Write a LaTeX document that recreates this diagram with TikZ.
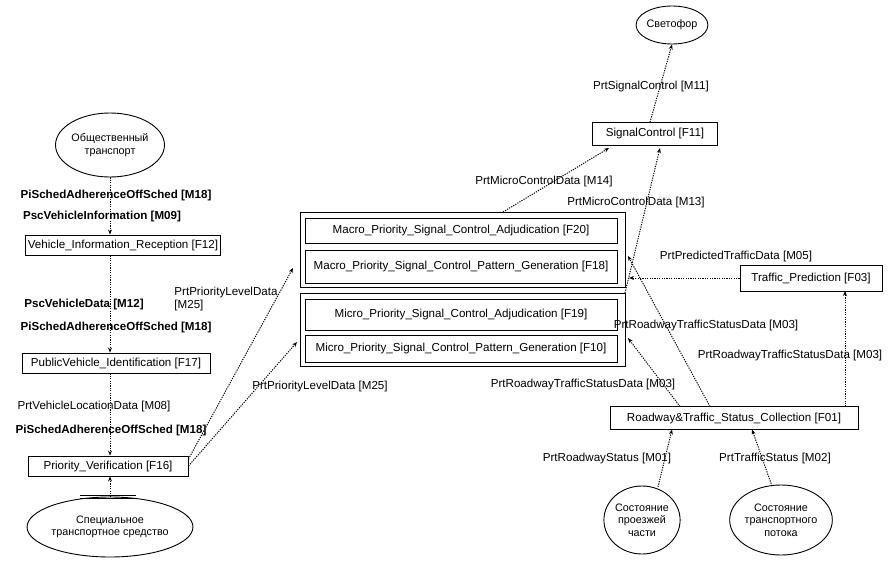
\documentclass[tikz,border=0pt]{standalone}
\usepackage{fontspec}
\setmainfont{Liberation Sans}
\usetikzlibrary{arrows.meta,shapes.geometric}
\begin{document}
\begin{tikzpicture}[x=1pt,y=-1pt,font=\fontsize{11.6}{13}\selectfont,
  box/.style={draw,line width=0.9pt,minimum height=20pt,inner sep=2pt},
  ell/.style={draw,ellipse,line width=0.9pt,align=center,inner sep=0pt,font=\fontsize{10.8}{12.5}\selectfont},
  fl/.style={line width=1pt,dash pattern=on 1.2pt off 1.2pt,-{Stealth[length=5pt,width=4pt]}},
  lb/.style={inner sep=1pt},
  bl/.style={inner sep=1pt,font=\fontsize{11.6}{13}\selectfont\bfseries}]
\useasboundingbox (0,0) rectangle (893,575);
% left column
\node[ell,minimum width=100pt,minimum height=64pt] (pt) at (110,145) {Общественный\\транспорт};
\node[bl] (l1) at (116,195) {PiSchedAdherenceOffSched [M18]};
\node[bl] (l2) at (102,216) {PscVehicleInformation [M09]};
\node[box,minimum width=191pt] (f12) at (123,245) {Vehicle\_Information\_Reception [F12]};
\node[bl] (l3) at (84,304) {PscVehicleData [M12]};
\node[bl] (l4) at (116,327) {PiSchedAdherenceOffSched [M18]};
\node[box,minimum width=188pt] (f17) at (116,363) {PublicVehicle\_Identification [F17]};
\node[lb] (l5) at (94,406) {PrtVehicleLocationData [M08]};
\node[bl] (l6) at (111,430) {PiSchedAdherenceOffSched [M18]};
\node[box,minimum width=160pt] (f16) at (108,466) {Priority\_Verification [F16]};
\node[ell,minimum width=136pt,minimum height=60pt] (sv) at (110,527) {Специальное\\транспортное средство};
\draw[fl] (pt.south) -- (f12.north -| pt.south);
\draw[fl] (f12.south -| pt.south) -- (f17.north -| pt.south);
\draw[fl] (f17.south -| pt.south) -- (f16.north -| pt.south);
\draw[fl] (sv.north) -- (f16.south -| sv.north);
\coordinate (dbl) at (108,497);
\draw[line width=0.9pt] ([xshift=-28pt,yshift=-1.8pt]dbl) -- ([xshift=28pt,yshift=-1.8pt]dbl)
  ([xshift=-28pt,yshift=1.8pt]dbl) -- ([xshift=28pt,yshift=1.8pt]dbl);
% groups
\node[box,minimum width=325pt,minimum height=75pt] (gma) at (462.5,249.5) {};
\node[box,minimum width=312pt,minimum height=25pt] (f20) at (461,230.5) {Macro\_Priority\_Signal\_Control\_Adjudication [F20]};
\node[box,minimum width=312pt,minimum height=33pt] (f18) at (461,266.5) {Macro\_Priority\_Signal\_Control\_Pattern\_Generation [F18]};
\node[box,minimum width=325pt,minimum height=73pt] (gmi) at (462.5,329.5) {};
\node[box,minimum width=312pt,minimum height=31pt] (f19) at (461,314.5) {Micro\_Priority\_Signal\_Control\_Adjudication [F19]};
\node[box,minimum width=312pt,minimum height=27pt] (f10) at (461,348.5) {Micro\_Priority\_Signal\_Control\_Pattern\_Generation [F10]};
\node[lb,align=left] (l7) at (226,299) {PrtPriorityLevelData\\{}[M25]};
\node[lb] (l8) at (320,386) {PrtPriorityLevelData [M25]};
\coordinate (a1) at (293,268);
\coordinate (a2) at (297,342);
\draw[fl] (f16.east) ++(0,-7) -- (a1);
\draw[fl] (f16.east) -- (a2);
% right
\node[ell,minimum width=62pt,minimum height=38pt] (sf) at (672,25) {Светофор};
\node[lb] (l9) at (651,87) {PrtSignalControl [M11]};
\node[box,minimum width=125pt,minimum height=23pt] (f11) at (655,134) {SignalControl [F11]};
\node[lb] (l10) at (544,182) {PrtMicroControlData [M14]};
\node[lb] (l11) at (636,202) {PrtMicroControlData [M13]};
\draw[fl] (f11.north) ++(-5,0) -- (sf.south);
\draw[fl] (503,212) -- (609,148);
\draw[fl] (625,293) -- (660,148);
\node[box,minimum width=142pt,minimum height=26pt] (f03) at (811,278) {Traffic\_Prediction [F03]};
\node[lb] (l12) at (736,256) {PrtPredictedTrafficData [M05]};
\draw[fl] (f03.west) -- (629,278);
\node[box,minimum width=248pt,minimum height=23pt] (f01) at (734,418) {Roadway\&Traffic\_Status\_Collection [F01]};
\node[lb] (l13) at (706,325) {PrtRoadwayTrafficStatusData [M03]};
\node[lb] (l14) at (790,355) {PrtRoadwayTrafficStatusData [M03]};
\node[lb] (l15) at (583,384) {PrtRoadwayTrafficStatusData [M03]};
\draw[fl] (710,406.5) -- (628,256);
\draw[fl] (680,406.5) -- (628,338);
\draw[fl] (845,406.5) -- (845,291);
\node[ell,minimum width=62pt,minimum height=68pt] (e1) at (642,520) {Состояние\\проезжей\\части};
\node[ell,minimum width=76pt,minimum height=70pt] (e2) at (781,520) {Состояние\\транспортного\\потока};
\node[lb] (l16) at (607,458) {PrtRoadwayStatus [M01]};
\node[lb] (l17) at (775,458) {PrtTrafficStatus [M02]};
\draw[fl] (658,487) -- (672,429.5);
\draw[fl] (772,486) -- (752,429.5);
\end{tikzpicture}
\end{document}
